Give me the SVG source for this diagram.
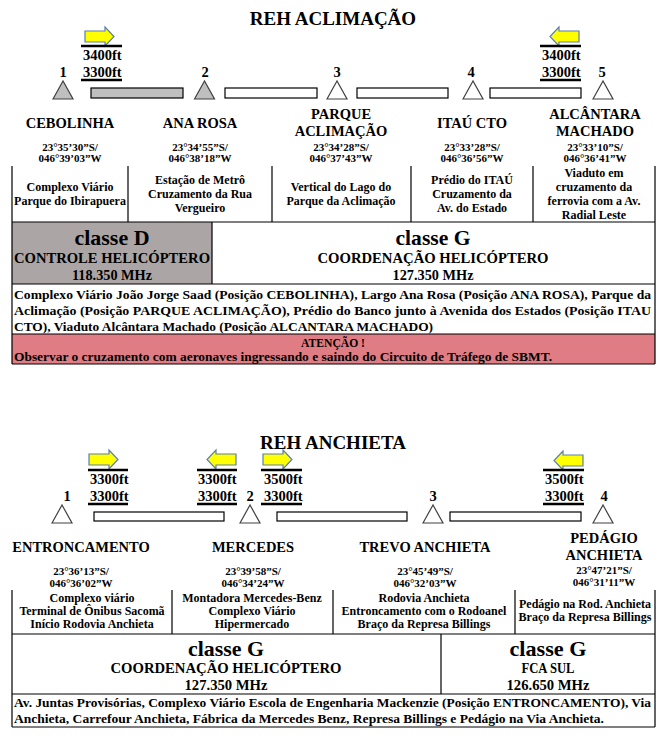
<svg xmlns="http://www.w3.org/2000/svg" width="665" height="755" viewBox="0 0 665 755">
<defs>
<style>
text{font-family:"Liberation Serif","Times New Roman",serif;font-weight:bold;fill:#000}
.title{font-size:19px;text-anchor:middle}
.name{font-size:14.5px;text-anchor:middle}
.coord{font-size:11px;text-anchor:middle}
.cell{font-size:12px;text-anchor:middle}
.alt{font-size:14.5px}
.num{font-size:14.5px;text-anchor:middle}
.cls{font-size:22px;text-anchor:middle}
.sub{font-size:15px;text-anchor:middle}
.para{font-size:13.5px}
.ln{stroke:#000;stroke-width:1.2;fill:none}
.ul{stroke:#000;stroke-width:2.5}
.bar{stroke:#000;stroke-width:1.2;fill:#fff}
.barg{stroke:#000;stroke-width:1.2;fill:#bfbfbf}
.tri{stroke:#404040;stroke-width:1.2;fill:#fff}
.trig{stroke:#404040;stroke-width:1.2;fill:#bfbfbf}
.arr{fill:#ffff00;stroke:#5a7fae;stroke-width:1.2}
</style>
<path id="arrR" d="M0,4 H20 V0 L29,9.5 L20,19 V15 H0 Z"/>
<path id="arrL" d="M29,4 H9 V0 L0,9.5 L9,19 V15 H29 Z"/>
</defs>
<rect width="665" height="755" fill="#fff"/>

<!-- ===== REH ACLIMAÇÃO ===== -->
<text class="title" x="333" y="25">REH ACLIMAÇÃO</text>

<g id="alt-top-1">
<use href="#arrR" class="arr" x="85" y="27"/>
<line class="ul" x1="81" y1="46" x2="122" y2="46"/>
<text class="alt" x="83" y="60">3400ft</text>
<text class="alt" x="83" y="77">3300ft</text>
<line class="ul" x1="81" y1="80" x2="122" y2="80"/>
</g>
<g id="alt-top-2">
<use href="#arrL" class="arr" x="550" y="27"/>
<line class="ul" x1="540" y1="46" x2="581" y2="46"/>
<text class="alt" x="542" y="60">3400ft</text>
<text class="alt" x="542" y="77">3300ft</text>
<line class="ul" x1="540" y1="80" x2="581" y2="80"/>
</g>

<g id="connectors-top">
<rect class="barg" x="91" y="88" width="92" height="10"/>
<rect class="bar" x="225" y="88" width="92" height="10"/>
<rect class="bar" x="357" y="88" width="91" height="10"/>
<rect class="bar" x="490" y="88" width="91" height="10"/>
</g>

<g id="wp-cebolinha">
<text class="num" x="63" y="77">1</text>
<polygon class="trig" points="53,99 63,81 73,99"/>
<text class="name" x="70" y="128">CEBOLINHA</text>
<text class="coord" x="70" y="151">23°35’30”S/</text>
<text class="coord" x="70" y="162">046°39’03”W</text>
<text class="cell" x="70" y="191">Complexo Viário</text>
<text class="cell" x="70" y="205">Parque do Ibirapuera</text>
</g>
<g id="wp-anarosa">
<text class="num" x="205" y="77">2</text>
<polygon class="trig" points="194.5,99 204.5,81 214.5,99"/>
<text class="name" x="200" y="128">ANA ROSA</text>
<text class="coord" x="200" y="151">23°34’55”S/</text>
<text class="coord" x="200" y="162">046°38’18”W</text>
<text class="cell" x="200" y="184">Estação de Metrô</text>
<text class="cell" x="200" y="198">Cruzamento da Rua</text>
<text class="cell" x="200" y="212">Vergueiro</text>
</g>
<g id="wp-parque">
<text class="num" x="337" y="77">3</text>
<polygon class="tri" points="327,99 337,81 347,99"/>
<text class="name" x="341" y="119">PARQUE</text>
<text class="name" x="341" y="136">ACLIMAÇÃO</text>
<text class="coord" x="341" y="151">23°34’28”S/</text>
<text class="coord" x="341" y="162">046°37’43”W</text>
<text class="cell" x="341" y="191">Vertical do Lago do</text>
<text class="cell" x="341" y="205">Parque da Aclimação</text>
</g>
<g id="wp-itau">
<text class="num" x="471" y="77">4</text>
<polygon class="tri" points="463,99 473,81 483,99"/>
<text class="name" x="472" y="128">ITAÚ CTO</text>
<text class="coord" x="472" y="151">23°33’28”S/</text>
<text class="coord" x="472" y="162">046°36’56”W</text>
<text class="cell" x="472" y="184">Prédio do ITAÚ</text>
<text class="cell" x="472" y="198">Cruzamento da</text>
<text class="cell" x="472" y="212">Av. do Estado</text>
</g>
<g id="wp-alcantara">
<text class="num" x="602" y="77">5</text>
<polygon class="tri" points="593,99 603,81 613,99"/>
<text class="name" x="595" y="119">ALCÂNTARA</text>
<text class="name" x="595" y="136">MACHADO</text>
<text class="coord" x="595" y="151">23°33’10”S/</text>
<text class="coord" x="595" y="162">046°36’41”W</text>
<text class="cell" x="594" y="177">Viaduto em</text>
<text class="cell" x="594" y="191">cruzamento da</text>
<text class="cell" x="594" y="205">ferrovia com a Av.</text>
<text class="cell" x="594" y="219">Radial Leste</text>
</g>

<g id="table-top">
<rect x="12" y="222" width="200" height="62" fill="#aba6a5"/>
<rect x="12" y="334" width="643" height="30" fill="#df7c84"/>
<path class="ln" d="M12,166 V364 M655,166 V364 M128,166 V222 M272,166 V222 M411,166 V222 M533,166 V222 M12,222 H655 M212,222 V284 M12,284 H655 M12,334 H655 M12,364 H655"/>
<text class="cls" x="112" y="245" textLength="75" lengthAdjust="spacingAndGlyphs">classe D</text>
<text class="sub" x="112" y="263" textLength="196" lengthAdjust="spacingAndGlyphs">CONTROLE HELICÓPTERO</text>
<text class="sub" x="112" y="280" textLength="80" lengthAdjust="spacingAndGlyphs">118.350 MHz</text>
<text class="cls" x="433" y="245" textLength="75" lengthAdjust="spacingAndGlyphs">classe G</text>
<text class="sub" x="433" y="263" textLength="231" lengthAdjust="spacingAndGlyphs">COORDENAÇÃO HELICÓPTERO</text>
<text class="sub" x="433" y="280" textLength="81" lengthAdjust="spacingAndGlyphs">127.350 MHz</text>
<text class="para" x="14" y="299" textLength="637" lengthAdjust="spacingAndGlyphs">Complexo Viário João Jorge Saad (Posição CEBOLINHA), Largo Ana Rosa (Posição ANA ROSA), Parque da</text>
<text class="para" x="14" y="315" textLength="637" lengthAdjust="spacingAndGlyphs">Aclimação (Posição PARQUE ACLIMAÇÃO), Prédio do Banco junto à Avenida dos Estados (Posição ITAU</text>
<text class="para" x="14" y="331" textLength="419" lengthAdjust="spacingAndGlyphs">CTO), Viaduto Alcântara Machado (Posição ALCANTARA MACHADO)</text>
<text class="para" x="333" y="347" text-anchor="middle" textLength="64" lengthAdjust="spacingAndGlyphs">ATENÇÃO !</text>
<text class="para" x="14" y="361" textLength="538" lengthAdjust="spacingAndGlyphs">Observar o cruzamento com aeronaves ingressando e saindo do Circuito de Tráfego de SBMT.</text>
</g>

<!-- ===== REH ANCHIETA ===== -->
<text class="title" x="333" y="449">REH ANCHIETA</text>

<g id="alt-bot-1">
<use href="#arrR" class="arr" x="89" y="450"/>
<line class="ul" x1="88" y1="470" x2="128" y2="470"/>
<text class="alt" x="90" y="484">3300ft</text>
<text class="alt" x="90" y="501">3300ft</text>
<line class="ul" x1="88" y1="504" x2="128" y2="504"/>
</g>
<g id="alt-bot-2">
<use href="#arrL" class="arr" x="207" y="450"/>
<line class="ul" x1="197" y1="470" x2="237" y2="470"/>
<text class="alt" x="198" y="484">3300ft</text>
<text class="alt" x="198" y="501">3300ft</text>
<line class="ul" x1="197" y1="504" x2="237" y2="504"/>
</g>
<g id="alt-bot-3">
<use href="#arrR" class="arr" x="263" y="450"/>
<line class="ul" x1="261" y1="470" x2="302" y2="470"/>
<text class="alt" x="264" y="484">3500ft</text>
<text class="alt" x="264" y="501">3300ft</text>
<line class="ul" x1="261" y1="504" x2="302" y2="504"/>
</g>
<g id="alt-bot-4">
<use href="#arrL" class="arr" x="554" y="451"/>
<line class="ul" x1="543" y1="470" x2="584" y2="470"/>
<text class="alt" x="545" y="484">3500ft</text>
<text class="alt" x="545" y="501">3300ft</text>
<line class="ul" x1="543" y1="504" x2="584" y2="504"/>
</g>

<g id="connectors-bottom">
<rect class="bar" x="94" y="512" width="130" height="9"/>
<rect class="bar" x="277" y="512" width="130" height="9"/>
<rect class="bar" x="450" y="512" width="131" height="9"/>
</g>

<g id="wp-entroncamento">
<text class="num" x="67" y="501">1</text>
<polygon class="tri" points="52,523 62,505 72,523"/>
<text class="name" x="81" y="552">ENTRONCAMENTO</text>
<text class="coord" x="81" y="575">23°36’13”S/</text>
<text class="coord" x="81" y="587">046°36’02”W</text>
<text class="cell" x="92" y="602">Complexo viário</text>
<text class="cell" x="92" y="615">Terminal de Ônibus Sacomã</text>
<text class="cell" x="92" y="628">Início Rodovia Anchieta</text>
</g>
<g id="wp-mercedes">
<text class="num" x="250" y="501">2</text>
<polygon class="tri" points="240,523 250,505 260,523"/>
<text class="name" x="253" y="552">MERCEDES</text>
<text class="coord" x="253" y="575">23°39’58”S/</text>
<text class="coord" x="253" y="587">046°34’24”W</text>
<text class="cell" x="252" y="602">Montadora Mercedes-Benz</text>
<text class="cell" x="252" y="615">Complexo Viário</text>
<text class="cell" x="252" y="628">Hipermercado</text>
</g>
<g id="wp-trevo">
<text class="num" x="433" y="501">3</text>
<polygon class="tri" points="423,523 433,505 443,523"/>
<text class="name" x="425" y="552">TREVO ANCHIETA</text>
<text class="coord" x="425" y="575">23°45’49”S/</text>
<text class="coord" x="425" y="587">046°32’03”W</text>
<text class="cell" x="424" y="602">Rodovia Anchieta</text>
<text class="cell" x="424" y="615">Entroncamento com o Rodoanel</text>
<text class="cell" x="424" y="628">Braço da Represa Billings</text>
</g>
<g id="wp-pedagio">
<text class="num" x="604" y="501">4</text>
<polygon class="tri" points="593,523 603,505 613,523"/>
<text class="name" x="604" y="543">PEDÁGIO</text>
<text class="name" x="604" y="560">ANCHIETA</text>
<text class="coord" x="604" y="574">23°47’21”S/</text>
<text class="coord" x="604" y="586">046°31’11”W</text>
<text class="cell" x="585" y="608">Pedágio na Rod. Anchieta</text>
<text class="cell" x="585" y="621">Braço da Represa Billings</text>
</g>

<g id="table-bottom">
<path class="ln" d="M12,590 V727 M655,590 V727 M172,590 V634 M333,590 V634 M515,590 V634 M12,634 H655 M441,634 V694 M12,694 H655 M12,727 H655"/>
<text class="cls" x="226" y="656" textLength="76" lengthAdjust="spacingAndGlyphs">classe G</text>
<text class="sub" x="226" y="673" textLength="231" lengthAdjust="spacingAndGlyphs">COORDENAÇÃO HELICÓPTERO</text>
<text class="sub" x="226" y="690" textLength="83" lengthAdjust="spacingAndGlyphs">127.350 MHz</text>
<text class="cls" x="548" y="656" textLength="77" lengthAdjust="spacingAndGlyphs">classe G</text>
<text class="sub" x="548" y="673" textLength="53" lengthAdjust="spacingAndGlyphs">FCA SUL</text>
<text class="sub" x="548" y="690" textLength="83" lengthAdjust="spacingAndGlyphs">126.650 MHz</text>
<text class="para" x="14" y="707" textLength="637" lengthAdjust="spacingAndGlyphs">Av. Juntas Provisórias, Complexo Viário Escola de Engenharia Mackenzie (Posição ENTRONCAMENTO), Via</text>
<text class="para" x="14" y="723" textLength="590" lengthAdjust="spacingAndGlyphs">Anchieta, Carrefour Anchieta, Fábrica da Mercedes Benz, Represa Billings e Pedágio na Via Anchieta.</text>
</g>
</svg>
